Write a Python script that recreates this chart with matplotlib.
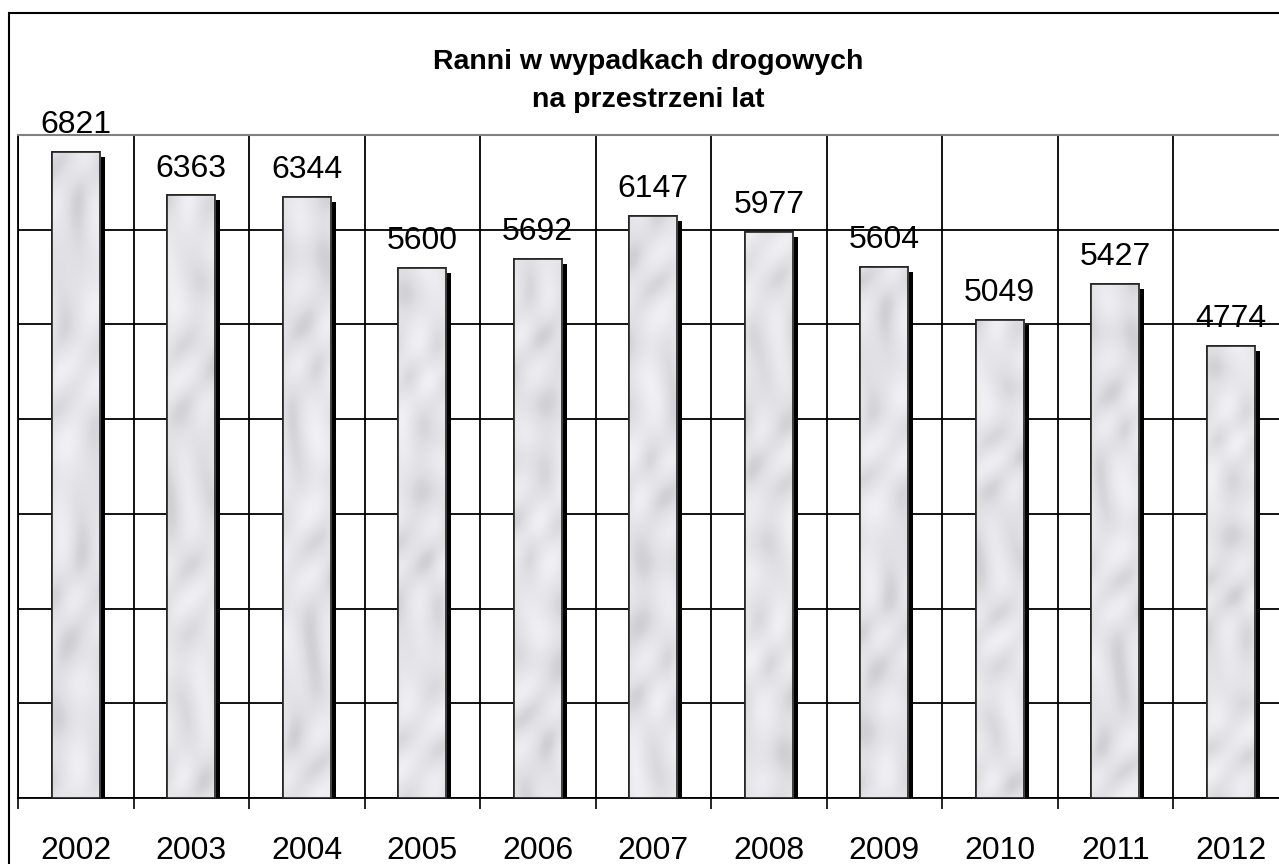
import numpy as np
import matplotlib
matplotlib.use("Agg")
from matplotlib import pyplot as plt
from matplotlib.patches import Rectangle
from matplotlib.transforms import ScaledTranslation

plt.rcParams['font.family'] = ['Liberation Sans', 'DejaVu Sans']

# data
years = ['2002', '2003', '2004', '2005', '2006', '2007', '2008', '2009', '2010', '2011', '2012']
injured = [6821, 6363, 6344, 5600, 5692, 6147, 5977, 5604, 5049, 5427, 4774]
title = 'Ranni w wypadkach drogowych\nna przestrzeni lat'


def marble(h, w, shift):
    # soft grey "marble" texture for the bar fill (deterministic)
    yy, xx = np.mgrid[0:h, 0:w].astype(float)
    a = np.sin(0.22 * xx + 0.10 * yy + 2.0 * np.sin(0.06 * yy + shift))
    b = np.sin(-0.15 * xx + 0.13 * yy + 1.5 * np.sin(0.045 * yy + 0.1 * xx + 2 * shift))
    c = np.sin(0.031 * yy + 0.08 * xx + 3 * shift)
    v = 0.45 * a + 0.35 * b + 0.2 * c
    shade = np.clip(v, -1, 1)
    grey = 0.89 + 0.05 * (-shade) - 0.05 * np.clip(shade - 0.4, 0, 1)
    img = np.dstack([grey, grey, grey + 0.02])
    return np.clip(img, 0, 1)


fig = plt.figure(figsize=(12.79, 8.64), dpi=100)
ax = fig.add_axes([18 / 1279, 66 / 864, 1270.5 / 1279, 663 / 864])

x = np.arange(len(years))
width = 0.418

# shadow, shifted 5 px right and down
shadow_tr = ax.transData + ScaledTranslation(5 / 100, -5 / 100, fig.dpi_scale_trans)
for xi, v in zip(x, injured):
    ax.add_patch(Rectangle((xi - width / 2, 0), width, v, facecolor='black',
                           edgecolor='none', transform=shadow_tr, zorder=3))

bars = ax.bar(x, injured, width, facecolor='#e4e4e8', edgecolor='#222222',
              linewidth=1.2, zorder=4)
for i, (b, v) in enumerate(zip(bars, injured)):
    im = ax.imshow(marble(300, 30, i * 0.9), extent=(b.get_x(), b.get_x() + width, 0, v),
                   aspect='auto', zorder=4.5, interpolation='bicubic')
    im.set_clip_path(b)
    ax.add_patch(Rectangle((b.get_x(), 0), width, v, facecolor='none', edgecolor='#222222',
                           linewidth=1.2, zorder=5))
    ax.annotate(str(v), xy=(x[i], v), xytext=(0, 13.5), textcoords='offset points',
                ha='center', va='baseline', fontsize=23, annotation_clip=False, zorder=6)

ax.set_xlim(-0.5, len(years) - 0.5)
ax.set_ylim(0, 7000)

# category boundaries carry tick marks and vertical gridlines
ax.set_xticks(np.arange(-0.5, len(years), 1.0))
ax.set_xticklabels([])
ax.set_xticks(x, minor=True)
ax.set_xticklabels(years, minor=True, fontsize=23)
ax.tick_params(axis='x', which='major', length=8, width=1.2, direction='out', color='black')
ax.tick_params(axis='x', which='minor', length=0, pad=27.5)
ax.set_yticks(np.arange(0, 7001, 1000))
ax.tick_params(axis='y', length=0, labelleft=False)
ax.grid(True, which='major', color='black', linewidth=1.3)
ax.set_axisbelow(True)

ax.spines['top'].set_color('#808080')
ax.spines['top'].set_linewidth(1.5)
ax.spines['right'].set_visible(False)
ax.spines['left'].set_linewidth(1.3)
ax.spines['bottom'].set_linewidth(1.3)

fig.text(648 / 1279, 1 - 49 / 864, title, ha='center', va='top', fontsize=20.5,
         fontweight='bold', linespacing=1.6)

# outer chart border
fig.patches.append(Rectangle((8.5 / 1279, -0.1), 1.2, 1 - 13.5 / 864 + 0.1,
                             transform=fig.transFigure, facecolor='none',
                             edgecolor='black', linewidth=1.5, zorder=0))

fig.savefig('out.png', dpi=100)
